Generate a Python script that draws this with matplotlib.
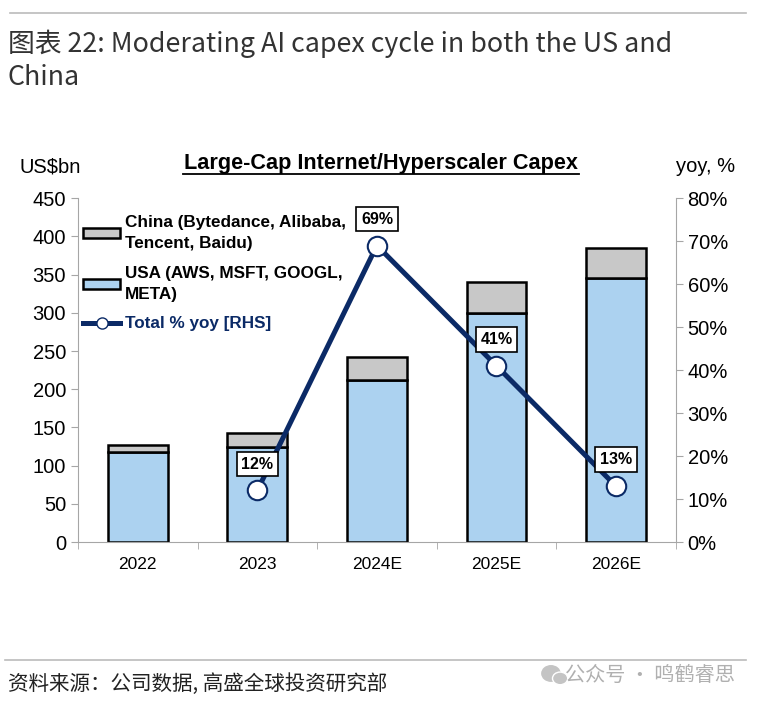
import numpy as np
import matplotlib.pyplot as plt
from matplotlib.patches import Patch, Ellipse
from matplotlib.lines import Line2D

# 数据
years = ["2022", "2023", "2024E", "2025E", "2026E"]
usa = [118, 124, 212, 300, 345]
china = [9, 19, 30, 40, 40]
yoy_years = ["2023", "2024E", "2025E", "2026E"]
yoy = [12, 69, 41, 13]
yoy_labels = ["12%", "69%", "41%", "13%"]

navy = "#0b2a66"
blue = "#acd2f0"
grey = "#c8c8c8"
axis_grey = "#a6a6a6"

plt.rcParams["font.family"] = ["Liberation Sans", "DejaVu Sans"]
cjk = ["Noto Sans CJK SC", "DejaVu Sans"]

fig = plt.figure(figsize=(7.61, 7.03), dpi=100)
ax = fig.add_axes([0.1025, 0.229, 0.7855, 0.489])

x = np.arange(len(years))
ax.bar(x, usa, width=0.5, color=blue, edgecolor="black", linewidth=1.8, zorder=2)
ax.bar(x, china, width=0.5, bottom=usa, color=grey, edgecolor="black",
       linewidth=1.8, zorder=2)

ax.set_xlim(-0.5, len(years) - 0.5)
ax.set_ylim(0, 450)
ax.set_yticks(np.arange(0, 451, 50))
ax.set_xticks(x)
ax.set_xticklabels(years)
ax.set_xticks(np.arange(-0.5, len(years), 1), minor=True)
ax.tick_params(axis="x", which="major", length=0, pad=11, labelsize=12.5)
ax.tick_params(axis="x", which="minor", length=5, color=axis_grey)
ax.tick_params(axis="y", length=5, color=axis_grey, labelsize=14.5)
for s in ["top", "right"]:
    ax.spines[s].set_visible(False)
for s in ["left", "bottom"]:
    ax.spines[s].set_color(axis_grey)

ax2 = ax.twinx()
ax2.set_ylim(0, 80)
ax2.set_yticks(np.arange(0, 81, 10))
ax2.set_yticklabels([f"{v}%" for v in range(0, 81, 10)])
ax2.tick_params(axis="y", length=5, color=axis_grey, labelsize=14.5)
for s in ["top", "left", "bottom"]:
    ax2.spines[s].set_visible(False)
ax2.spines["right"].set_color(axis_grey)

xl = [years.index(y) for y in yoy_years]
ax2.plot(xl, yoy, color=navy, linewidth=3.6, marker="o", markersize=14,
         markerfacecolor="white", markeredgecolor=navy, markeredgewidth=1.5,
         zorder=4)
for xi, v, lab in zip(xl, yoy, yoy_labels):
    ax2.annotate(lab, (xi, v), xytext=(0, 19), textcoords="offset points",
                 ha="center", va="center", fontsize=11.5, fontweight="bold",
                 bbox=dict(boxstyle="square,pad=0.3", fc="white", ec="black", lw=1.2),
                 zorder=5)

handles = [
    Patch(facecolor=grey, edgecolor="black", linewidth=1.8),
    Patch(facecolor=blue, edgecolor="black", linewidth=1.8),
    Line2D([], [], color=navy, linewidth=3.6, marker="o", markersize=8,
           markerfacecolor="white", markeredgecolor=navy),
]
labels = ["China (Bytedance, Alibaba,\nTencent, Baidu)",
          "USA (AWS, MSFT, GOOGL,\nMETA)",
          "Total % yoy [RHS]"]
leg = ax2.legend(handles, labels, loc="upper left", bbox_to_anchor=(-0.012, 0.985),
                 frameon=False, prop={"weight": "bold", "size": 12.3},
                 handlelength=2.2, handleheight=0.5, handletextpad=0.25,
                 labelspacing=0.85, borderaxespad=0.3)
for t in leg.get_texts():
    t.set_linespacing(1.5)
leg.get_texts()[2].set_color(navy)

fig.text(0.106, 0.763, "US$bn", ha="right", va="center", fontsize=14.5)
fig.text(0.966, 0.763, "yoy, %", ha="right", va="center", fontsize=14.5)
fig.text(0.501, 0.768, "Large-Cap Internet/Hyperscaler Capex", ha="center",
         va="center", fontsize=15.6, fontweight="bold")
fig.add_artist(Line2D([0.241, 0.761], [0.753, 0.753], color="black", linewidth=1.3))

# 标题和来源
fig.add_artist(Line2D([0.013, 0.98], [0.981, 0.981], color="#bbbbbb", linewidth=1.2))
fig.text(0.01, 0.914, "图表 22: Moderating AI capex cycle in both the US and\nChina",
         ha="left", va="center", fontsize=19.3, family=cjk, color="#333333",
         linespacing=1.3, fontweight="light")
fig.add_artist(Line2D([0.007, 0.98], [0.061, 0.061], color="#bbbbbb", linewidth=1.2))
fig.text(0.01, 0.027, "资料来源：公司数据, 高盛全球投资研究部", ha="left", va="center",
         fontsize=14.8, family=cjk, color="#222222")
# 水印
fig.add_artist(Ellipse((0.724, 0.042), 0.024, 0.022, color="#c4c4c4"))
fig.add_artist(Ellipse((0.736, 0.035), 0.02, 0.018, color="#c4c4c4", ec="white", lw=1))
fig.text(0.966, 0.039, "公众号 · 鸣鹤睿思", ha="right", va="center",
         fontsize=14.5, family=cjk, color="#b0b0b0")

fig.savefig("out.png", dpi=100)
